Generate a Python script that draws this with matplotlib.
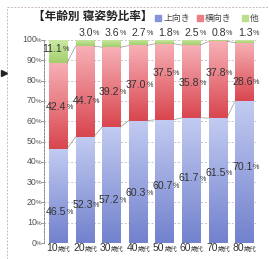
import numpy as np
import matplotlib.pyplot as plt
from matplotlib.colors import LinearSegmentedColormap
from matplotlib.lines import Line2D
from matplotlib.patches import Rectangle

plt.rcParams['font.family'] = ['Liberation Sans', 'Noto Sans CJK JP', 'DejaVu Sans']

# data
ages = ['10', '20', '30', '40', '50', '60', '70', '80']
age_suffix = '歳代'
supine = [46.5, 52.3, 57.2, 60.3, 60.7, 61.7, 61.5, 70.1]   # 上向き
side = [42.4, 44.7, 39.2, 37.0, 37.5, 35.8, 37.8, 28.6]     # 横向き
other = [11.1, 3.0, 3.6, 2.7, 1.8, 2.5, 0.8, 1.3]           # 他
series_names = ['上向き', '横向き', '他']

# where the value labels sit (in % of the axis)
supine_label_y = [15.3, 18.7, 21.2, 24.8, 28.2, 31.8, 34.5, 37.4]
side_label_y = [67.0, 70.0, 74.4, 77.8, 83.8, 78.8, 83.7, 79.3]
other_label_y = [95.6, 103.6, 103.6, 103.6, 103.6, 103.6, 103.6, 103.6]

colors = {
    'supine': ('#c2cbf1', '#7282cd'),
    'side': ('#f7b0b6', '#d9464f'),
    'other': ('#cbe8a4', '#a3cf6c'),
}
legend_colors = ['#8594dc', '#ee7e86', '#b9de8c']
txt_col = '#333333'

fig = plt.figure(figsize=(2.69, 2.59), dpi=100)
ax = fig.add_axes([44 / 269, 1 - 243 / 259, 212 / 269, 203 / 259])

x = np.arange(len(ages))
w = 0.68
grad = np.linspace(0, 1, 64).reshape(-1, 1)


def grad_bar(xc, bottom, top, key):
    light, dark = colors[key]
    cmap = LinearSegmentedColormap.from_list(key, [dark, light])
    ax.imshow(grad, extent=(xc - w / 2, xc + w / 2, bottom, top), origin='lower',
              aspect='auto', cmap=cmap, zorder=2, interpolation='bicubic')


sup = np.array(supine)
sid = np.array(side)
oth = np.array(other)
for i in x:
    grad_bar(i, 0, sup[i], 'supine')
    grad_bar(i, sup[i], sup[i] + sid[i], 'side')
    grad_bar(i, sup[i] + sid[i], sup[i] + sid[i] + oth[i], 'other')

# series lines between neighbouring bars
for lvl in [sup, sup + sid]:
    for i in range(len(x) - 1):
        ax.plot([i + w / 2, i + 1 - w / 2], [lvl[i], lvl[i + 1]], color='#8a8a8a',
                lw=0.45, zorder=3)

ax.set_xlim(-0.53, 7.44)
ax.set_ylim(0, 100)

# grid + axis styling
for v in range(0, 101, 10):
    ax.axhline(v, color='#b4b4b4', lw=0.55, ls=(0, (2.5, 2.5)), zorder=0)
for s in ['top', 'right', 'bottom']:
    ax.spines[s].set_visible(False)
ax.spines['left'].set_color('#888888')
ax.spines['left'].set_linewidth(0.7)
ax.spines['left'].set_linestyle((0, (2, 1.5)))
ax.set_xticks([])
ax.set_yticks(range(0, 101, 10))
ax.set_yticklabels([])
ax.tick_params(axis='y', length=2, width=0.6, color='#888888')

ytr = ax.get_yaxis_transform()
for v in range(0, 101, 10):
    ax.annotate(str(v), xy=(0, v), xycoords=ytr, xytext=(-5.2, 0), textcoords='offset points',
                ha='right', va='center', fontsize=6.3, color='#555555')
    ax.annotate('%', xy=(0, v), xycoords=ytr, xytext=(-1.6, -0.4), textcoords='offset points',
                ha='right', va='center', fontsize=4.5, color='#555555')

xtr = ax.get_xaxis_transform()
for i, a in enumerate(ages):
    ax.annotate(a, xy=(i, 0), xycoords=xtr, xytext=(0, -3.8), textcoords='offset points',
                ha='right', va='center', fontsize=7.5, color=txt_col)
    ax.annotate(age_suffix, xy=(i, 0), xycoords=xtr, xytext=(0, -4.2), textcoords='offset points',
                ha='left', va='center', fontsize=4.6, color=txt_col)


def val_label(xc, y, val):
    ax.annotate(f'{val:.1f}', xy=(xc + w / 2, y), xytext=(-0.6, 0), textcoords='offset points',
                ha='right', va='center', fontsize=7.6, color=txt_col, zorder=5,
                annotation_clip=False)
    ax.annotate('%', xy=(xc + w / 2, y), xytext=(-0.4, -0.5), textcoords='offset points',
                ha='left', va='center', fontsize=5.2, color=txt_col, zorder=5,
                annotation_clip=False)


for i in x:
    val_label(i, supine_label_y[i], supine[i])
    val_label(i, side_label_y[i], side[i])
    val_label(i - (0.15 if i == 0 else 0), other_label_y[i], other[i])

# title and legend
fig.text(33 / 269, 1 - 17 / 259, '【年齢別 寝姿勢比率】', fontsize=8.4, color='#222222',
         ha='left', va='center', fontweight='bold')
leg_x = [155, 197, 242]
for lx, name, c in zip(leg_x, series_names, legend_colors):
    fig.patches.append(Rectangle((lx / 269, 1 - 21 / 259), 6 / 269, 6 / 259,
                                 transform=fig.transFigure, color=c))
    fig.text((lx + 8) / 269, 1 - 18 / 259, name, fontsize=6.4, color='#444444',
             ha='left', va='center')

# frame of the panel and the little marker on the left
fig.lines.append(Line2D([7 / 269, 7 / 269], [0, 1 - 7 / 259], transform=fig.transFigure,
                        color='#c9b8c2', lw=0.7, ls=(0, (2, 1.5))))
fig.lines.append(Line2D([7 / 269, 1], [1 - 7 / 259, 1 - 7 / 259], transform=fig.transFigure,
                        color='#c9b8c2', lw=0.7, ls=(0, (2, 1.5))))
fig.lines.append(Line2D([4 / 269], [1 - 73 / 259], transform=fig.transFigure, marker='>',
                        color='#222222', markersize=4, ls='none'))

fig.savefig('out.png', dpi=100)
